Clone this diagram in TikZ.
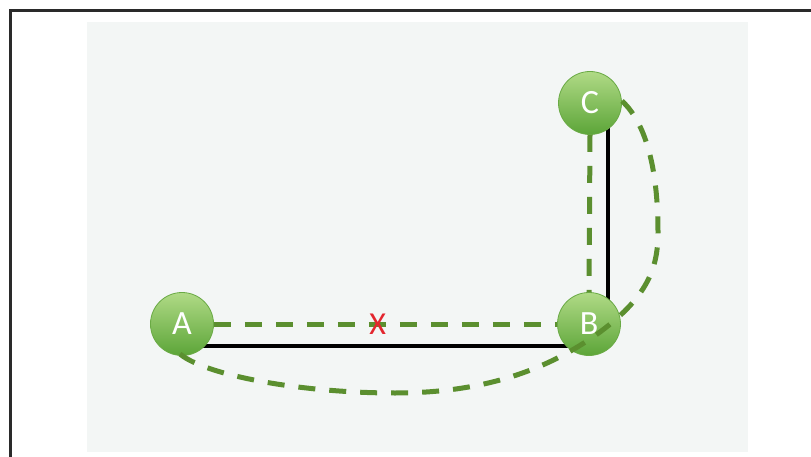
\documentclass[tikz,border=0pt]{standalone}
\usepackage{fontspec}
\setmainfont{Carlito}
\usetikzlibrary{calc}
\definecolor{frameline}{HTML}{2A2A2A}
\definecolor{panelbg}{HTML}{F3F6F5}
\definecolor{balltop}{HTML}{B0DA86}
\definecolor{ballbottom}{HTML}{5CA538}
\definecolor{ballrim}{HTML}{6AAA45}
\definecolor{pathgreen}{HTML}{5B8F2F}
\definecolor{crossred}{HTML}{E3262E}
\tikzset{
  vertex/.style={circle, minimum size=63pt, inner sep=0pt,
    shading=axis, top color=balltop, bottom color=ballbottom,
    draw=ballrim, line width=0.8pt,
    text=white, font=\fontsize{34}{34}\selectfont},
  link/.style={line width=4pt, black, line join=round},
  route/.style={line width=5pt, pathgreen, dash pattern=on 17pt off 14pt}
}
\begin{document}
\begin{tikzpicture}[x=1pt, y=-1pt]
  \useasboundingbox (0,0) rectangle (811,457);
  % frame and panel
  \fill[panelbg] (87,22) rectangle (748,452);
  \draw[frameline, line width=3pt] (10,457) -- (10,11) -- (811,11);

  % physical links (drawn first, under the nodes)
  \coordinate (abstart) at (200,346);
  \coordinate (corner) at (608,346);
  \coordinate (ctop) at (608,120);
  \draw[link] (abstart) -- (corner) -- (ctop);

  % nodes
  \node[vertex] (A) at (182,324) {A};
  \node[vertex] (B) at (589,324) {B};
  \node[vertex] (C) at (590,103) {C};

  % direct routes
  \draw[route] (A.east) -- node[pos=0.477, text=crossred, font=\fontsize{32}{32}\selectfont, inner sep=0pt] (X) {X} (B.west);
  \draw[route] (C.south) -- (B.north);

  % detour route from A under B and up to C
  \coordinate (r0) at (180,354);
  \coordinate (r1) at (395,393);
  \coordinate (r2) at (600,332);
  \coordinate (r3) at (658,232);
  \coordinate (r4) at (622,101);
  \draw[route] (r0) .. controls (205,375) and (300,393) .. (r1)
    .. controls (480,393) and (545,372) .. (r2)
    .. controls (650,295) and (658,265) .. (r3)
    .. controls (658,175) and (648,125) .. (r4);
\end{tikzpicture}
\end{document}
